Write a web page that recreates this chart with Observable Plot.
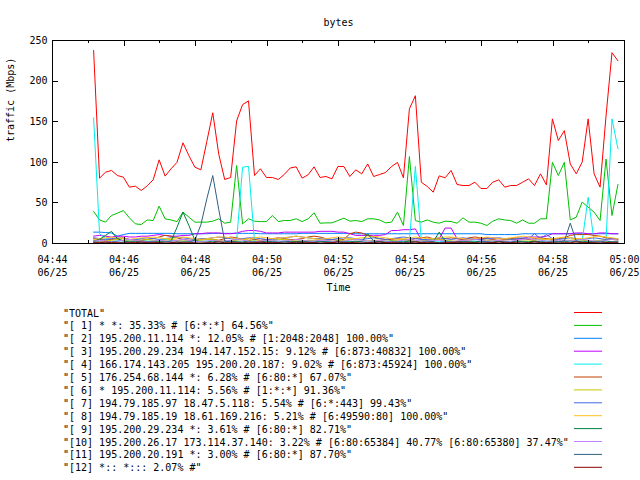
<!DOCTYPE html>
<html><head><meta charset="utf-8">
<script src="https://cdn.jsdelivr.net/npm/d3@7"></script>
<script src="https://cdn.jsdelivr.net/npm/@observablehq/plot@0.6"></script>
<style>
body{margin:0;background:#fff;}
#wrap{position:relative;width:640px;height:480px;background:#fff;overflow:hidden;}
#wrap svg{position:absolute;left:0;}
</style></head><body><div id="wrap"></div>
<script>
const titleText = "bytes";
const xLabel = "Time";
const yLabel = "traffic (Mbps)";
const seriesNames = [
  '"TOTAL"',
  '"[ 1] * *: 35.33% # [6:*:*] 64.56%"',
  '"[ 2] 195.200.11.114 *: 12.05% # [1:2048:2048] 100.00%"',
  '"[ 3] 195.200.29.234 194.147.152.15: 9.12% # [6:873:40832] 100.00%"',
  '"[ 4] 166.174.143.205 195.200.20.187: 9.02% # [6:873:45924] 100.00%"',
  '"[ 5] 176.254.68.144 *: 6.28% # [6:80:*] 67.07%"',
  '"[ 6] * 195.200.11.114: 5.56% # [1:*:*] 91.36%"',
  '"[ 7] 194.79.185.97 18.47.5.118: 5.54% # [6:*:443] 99.43%"',
  '"[ 8] 194.79.185.19 18.61.169.216: 5.21% # [6:49590:80] 100.00%"',
  '"[ 9] 195.200.29.234 *: 3.61% # [6:80:*] 82.71%"',
  '"[10] 195.200.26.17 173.114.37.140: 3.22% # [6:80:65384] 40.77% [6:80:65380] 37.47%"',
  '"[11] 195.200.20.191 *: 3.00% # [6:80:*] 87.70%"',
  '"[12] *:: *::: 2.07% #"'
];
const seriesColors = ["#ff0000","#00c000","#0080ff","#c000ff","#00eeee","#c04000","#c8c800","#4169e1","#ffc020","#008040","#c080ff","#306080","#8b0000"];

// sampling: first sample 06/25 04:45:09, one sample every 10 s
const startTime = Date.UTC(2008, 5, 25, 4, 45, 9);
const stepSeconds = 10;

const total = [237.7,80.5,87.8,90,83.7,81.7,69.4,70.6,65.3,71,
78.4,103,83,92,100,124,108,94,90.7,125.6,
161,110,78.8,81.3,151,171,175.7,83.7,92,81.3,
81.3,78.8,85,93,94.4,80.5,84.6,94.4,81.3,82.5,
79.6,94.8,94.8,82.5,90.7,85.8,98,82.5,85,87.4,
94.8,99.8,80.9,165.8,182,75.5,70.2,63.2,83.3,80.9,
90,72.7,71.4,71.4,75.5,67.7,67.7,75.5,78.4,69.4,
71.4,71.4,75.5,79.6,71.4,85.8,72.2,153.5,126.8,139,
98,85.8,100.2,153.5,85.8,69.4,157,235,225];
const s1 = [39.4,29,26.3,34.5,37.4,40.6,31.6,24.2,23.4,29,
28.3,46,30.4,29,27,38.6,32.4,26.3,26.3,26.3,
27.5,30.4,25,26.3,96,24.2,30.4,27.5,27,27,
34.5,27,28.3,28.3,30.4,27,30.4,37.8,25,25.4,
25.4,28.3,31.2,27.5,28.3,27,30.4,30.4,29,25.4,
26.3,38.6,22.2,107,28.3,26.3,29,26.3,25,27.5,
27,25,31.6,26.3,26.3,25,22.2,27.5,30.4,29,
28.3,25,29,25,25,30.4,30.4,100,83.7,100,
29,32.4,51,44.7,38.6,28.3,104,34.5,72.7];
const s2 = [14,14,13.5,13,9,11,12.5,12.5,12.5,12.5,
12.5,12.5,12.5,12.5,12,12,12,12,12,12,
12.5,12.5,12.5,12.5,12.5,12.5,12.5,12.5,12,12,
12,12,12,12,12,12.5,12.5,12.5,12.5,12.5,
12.5,12.5,12.5,12.5,12,12,12,12,12,12,
12,12,12,12,12,12,12,12,12,12,
12,12,12,12,12,12,11,11,11,11,
11,11,12,12,12,12,12,12,12,12,
12,12,12,12,12,12,12,12,12];
const s3 = [9,10,9,8,9,9,8,8,9,9,
10,11,10,9,9,10,10,12,12,13,
13,13,12,12,13,15,16,16,15,13,
13,13,14,14,14,14,14,14,15,15,
15,14,14,12,10,10,10,10,10,11,
16,16,17,17,18,4,4,5,6,19,
19,6,5,5,6,6,7,7,6,6,
5,5,6,8,8,8,9,12,12,12,
12,13,13,12,12,13,13,12,12];
const s4 = [154.8,12,6,5,4,3,4,5,4,3,
3,4,5,4,3,3,2,2,3,3,
2,2,2,3,3,94,95,3,2,2,
3,3,2,2,3,3,4,3,3,2,
2,3,3,2,2,3,3,2,2,3,
3,2,3,3,95,4,3,2,2,3,
3,2,2,3,3,2,2,3,3,2,
2,3,3,2,2,3,3,2,2,3,
3,3,3,57,3,3,4,153.5,116.6];
const s5 = [6,5,4,5,6,7,5,4,4,5,
6,8,10,9,7,5,4,4,5,6,
5,4,6,8,7,5,6,5,4,5,
6,7,6,5,5,6,8,9,8,6,
5,4,5,12,14,13,10,8,6,5,
5,6,5,4,6,7,8,6,5,6,
7,6,5,7,8,7,6,5,6,5,
6,7,6,5,6,7,6,5,6,7,
10,11,11,11,10,9,7,6,5];
const s6 = [4,3,3,4,5,4,3,3,4,5,
4,3,4,5,4,3,3,4,4,5,
5,4,3,3,4,5,4,3,3,4,
4,5,5,4,3,3,4,4,5,4,
3,3,4,5,5,4,3,4,4,3,
3,4,5,4,3,3,4,5,5,4,
3,3,4,4,5,5,4,3,3,4,
5,4,3,3,4,5,5,4,3,4,
4,5,4,3,3,4,5,5,4];
const s7 = [7,6,5,6,7,6,5,5,6,7,
6,5,6,7,8,7,6,5,6,6,
7,8,7,6,5,6,7,7,6,5,
5,6,7,8,9,8,7,6,6,5,
5,6,7,7,6,5,6,7,6,5,
6,7,8,7,6,5,5,6,7,6,
5,6,7,6,5,5,6,6,7,6,
5,6,7,6,12,6,11,6,5,6,
7,6,5,6,7,6,5,6,6];
const s8 = [5,6,7,8,7,6,5,6,7,7,
8,7,6,6,7,8,7,6,5,6,
7,8,8,7,6,5,6,7,8,7,
6,6,7,8,9,8,7,6,5,6,
7,8,7,6,6,7,8,9,8,7,
6,5,6,7,8,7,6,6,7,8,
8,7,6,5,6,7,8,7,6,6,
7,8,9,8,7,6,5,6,7,8,
7,6,6,7,8,9,8,7,6];
const s9 = [3,5,10,15,6,3,2,2,3,2,
2,3,2,3,20,38.6,22,4,2,2,
3,2,2,3,2,2,3,2,2,3,
2,2,3,2,2,3,2,2,3,2,
2,3,2,2,3,2,12,3,2,2,
3,2,2,3,2,2,3,2,14,3,
2,2,3,2,2,3,2,2,3,2,
2,3,2,2,3,2,2,3,2,2,
3,2,2,3,2,2,3,2,2];
const s10 = [3,4,3,2,3,4,5,4,3,2,
3,4,3,3,4,5,4,3,2,3,
4,3,3,4,5,4,3,2,3,4,
4,3,3,4,5,4,3,3,4,4,
3,2,3,4,5,4,3,3,4,3,
2,3,4,5,4,3,3,4,4,3,
2,3,4,4,5,4,3,3,4,3,
3,4,5,6,5,4,3,3,4,4,
3,4,5,4,3,3,4,5,4];
const s11 = [2,2,1,2,2,1,2,2,1,2,
2,1,2,2,1,2,2,4,23,55,
83.7,42,3,2,2,1,2,2,1,2,
2,1,2,2,1,2,2,1,2,2,
1,2,2,1,2,2,1,2,2,1,
2,2,1,2,2,1,2,2,1,2,
2,1,2,2,1,2,2,1,2,2,
1,2,2,1,2,2,1,2,2,3,
25,3,2,1,2,2,1,2,2];
const s12 = [1,1,2,1,1,0.5,1,1,2,1,
1,1,0.5,1,2,1,1,1,0.5,1,
1,2,1,1,1,0.5,1,1,2,1,
1,1,0.5,1,2,1,1,1,0.5,1,
1,2,1,1,1,0.5,1,1,2,1,
1,1,0.5,1,2,1,1,1,0.5,1,
1,2,1,1,1,0.5,1,1,2,1,
1,1,0.5,1,2,1,1,1,0.5,1,
1,2,1,1,1,0.5,1,1,1];
const seriesValues = [total, s1, s2, s3, s4, s5, s6, s7, s8, s9, s10, s11, s12];

const xTickLabels = ["04:44","04:46","04:48","04:50","04:52","04:54","04:56","04:58","05:00"];
const xDateLabel = "06/25";
const yTicks = [0, 50, 100, 150, 200, 250];
const yDomain = [0, 250];

// ---- layout ----
const W = 640, H = 300, mL = 52, mR = 16, mT = 40, mB = 57;
const fw = W - mL - mR, fh = H - mT - mB;
const majorLen = 6, minorLen = 3;

// ---- derived ----
const toDate = (hm) => { const [h, m] = hm.split(":").map(Number); return new Date(Date.UTC(2008, 5, 25, h, m)); };
const xMajor = xTickLabels.map(toDate);
const xDomain = [xMajor[0], xMajor[xMajor.length - 1]];
const xMinor = d3.utcMinute.range(xDomain[0], new Date(+xDomain[1] + 1)).filter(d => !xMajor.some(m => +m === +d));
const labelOf = d => { const i = xMajor.findIndex(m => +m === +d); return xTickLabels[i] + "\n" + xDateLabel; };

const table = [];
seriesValues.forEach((vals, k) => vals.forEach((v, i) => table.push({time: new Date(startTime + i * stepSeconds * 1000), value: v, series: seriesNames[k]})));

const font = '"DejaVu Sans Mono", monospace';
const tickStyle = {stroke: "black", strokeWidth: 1, shapeRendering: "crispEdges"};

const chart = Plot.plot({
  width: W, height: H,
  marginLeft: mL, marginRight: mR, marginTop: mT, marginBottom: mB,
  style: {fontFamily: font, fontSize: "10px", background: "white", color: "black", overflow: "visible"},
  x: {type: "utc", domain: xDomain},
  y: {domain: yDomain},
  color: {domain: seriesNames, range: seriesColors},
  marks: [
    Plot.line(table, {x: "time", y: "value", z: "series", stroke: "series", strokeWidth: 1}),
    Plot.frame({stroke: "black", strokeWidth: 1, shapeRendering: "crispEdges"}),
    Plot.axisX({ticks: xMajor, tickSize: 0, tickPadding: 10, tickFormat: labelOf, lineHeight: 1.3, label: null, fontSize: 10}),
    Plot.axisY({ticks: yTicks, tickSize: 0, tickPadding: 5, label: null, fontSize: 10}),
    // inward major/minor ticks, mirrored on the opposite side
    Plot.ruleX(xMajor, {x: d => d, insetTop: fh - majorLen, ...tickStyle}),
    Plot.ruleX(xMajor, {x: d => d, insetBottom: fh - majorLen, ...tickStyle}),
    Plot.ruleX(xMinor, {x: d => d, insetTop: fh - minorLen, ...tickStyle}),
    Plot.ruleX(xMinor, {x: d => d, insetBottom: fh - minorLen, ...tickStyle}),
    Plot.ruleY(yTicks, {y: d => d, insetRight: fw - majorLen, ...tickStyle}),
    Plot.ruleY(yTicks, {y: d => d, insetLeft: fw - majorLen, ...tickStyle}),
    Plot.text([titleText], {frameAnchor: "top", dy: -22, fontSize: 10}),
    Plot.text([xLabel], {frameAnchor: "bottom", dy: 47, fontSize: 10}),
    Plot.text([yLabel], {frameAnchor: "left", dx: -42, rotate: -90, fontSize: 10})
  ]
});
chart.style.top = "0px";
const wrap = document.getElementById("wrap");
wrap.appendChild(chart);

// legend below the chart
const legend = d3.select(wrap).append("svg")
  .attr("width", 640).attr("height", 180)
  .style("top", "300px");
const rows = legend.selectAll("g").data(seriesNames).join("g")
  .attr("transform", (d, i) => `translate(0,${13 + i * 12.9})`);
rows.append("text")
  .attr("x", 63).attr("y", 0)
  .attr("dy", "0.35em")
  .attr("font-family", font).attr("font-size", 10)
  .attr("xml:space", "preserve").style("white-space", "pre")
  .text(d => d);
rows.append("line")
  .attr("x1", 574).attr("x2", 602).attr("y1", -0.5).attr("y2", -0.5)
  .attr("stroke", (d, i) => seriesColors[i]).attr("stroke-width", 1);
</script></body></html>
